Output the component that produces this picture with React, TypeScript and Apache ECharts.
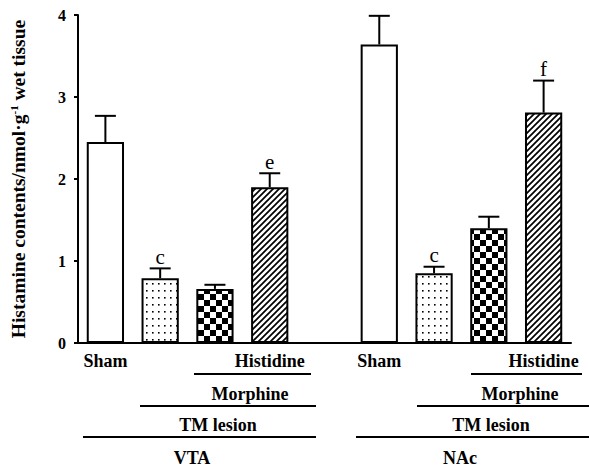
import { useEffect, useRef } from "react";
import * as echarts from "echarts";

// ---- data ----
const categories = ["Sham", "", "", "Histidine", "", "Sham", "", "", "Histidine"];
const means = [2.45, 0.79, 0.66, 1.9, null, 3.64, 0.85, 1.4, 2.81];
const sems = [0.32, 0.12, 0.05, 0.17, null, 0.35, 0.08, 0.14, 0.39];
const letters = ["", "c", "", "e", "", "", "c", "", "f"];
const fills = ["plain", "dots", "checker", "hatch", "", "plain", "dots", "checker", "hatch"];
const yMin = 0;
const yMax = 4;
const yStep = 1;
const regionNames = ["VTA", "NAc"];
const treatmentRows = ["Morphine", "TM lesion"];

const SERIF = '"Liberation Serif", "Times New Roman", serif';

function makePattern(kind: string): any {
  if (kind === "plain" || !kind) return "#ffffff";
  const c = document.createElement("canvas");
  let w = 6;
  let h = 7;
  if (kind === "checker") {
    w = 12;
    h = 12;
  } else if (kind === "hatch") {
    w = 6;
    h = 6;
  }
  c.width = w;
  c.height = h;
  const ctx = c.getContext("2d")!;
  ctx.fillStyle = "#ffffff";
  ctx.fillRect(0, 0, w, h);
  ctx.fillStyle = "#000000";
  ctx.strokeStyle = "#000000";
  if (kind === "dots") {
    ctx.fillRect(2, 3, 1.6, 1.6);
  } else if (kind === "checker") {
    ctx.fillRect(0, 0, 6, 6);
    ctx.fillRect(6, 6, 6, 6);
  } else if (kind === "hatch") {
    ctx.lineWidth = 1.7;
    ctx.beginPath();
    ctx.moveTo(0, 6);
    ctx.lineTo(6, 0);
    ctx.moveTo(-2, 2);
    ctx.lineTo(2, -2);
    ctx.moveTo(4, 8);
    ctx.lineTo(8, 4);
    ctx.stroke();
  }
  return { image: c, repeat: "repeat", imageWidth: w, imageHeight: h };
}

export default function App() {
  const ref = useRef<HTMLDivElement>(null);

  useEffect(() => {
    if (!ref.current) return;
    const chart = echarts.init(ref.current, undefined, { renderer: "svg" });

    const barData = means.map((v, i) =>
      v == null ? "-" : { value: v, itemStyle: { color: makePattern(fills[i]) } }
    );
    const errData: any[] = [];
    means.forEach((v, i) => {
      if (v != null) errData.push([i, v, v + (sems[i] as number)]);
    });

    const label = (text: string, x: number, y: number) => ({
      type: "text",
      x,
      y,
      silent: true,
      style: {
        text,
        fill: "#000",
        fontFamily: SERIF,
        fontWeight: "bold",
        fontSize: 18,
        align: "center",
        verticalAlign: "middle",
        textAlign: "center",
        textVerticalAlign: "middle",
      },
    });
    const hline = (x1: number, x2: number, y: number) => ({
      type: "line",
      silent: true,
      shape: { x1, y1: y, x2, y2: y },
      style: { stroke: "#000", lineWidth: 2 },
    });

    const graphic = [
      hline(194, 311, 374),
      hline(471, 582, 374),
      label(treatmentRows[0], 250, 394),
      label(treatmentRows[0], 520, 394),
      hline(140, 316, 406),
      hline(417, 589, 406),
      label(treatmentRows[1], 218, 425),
      label(treatmentRows[1], 491, 425),
      hline(83, 316, 437),
      hline(356, 589, 437),
      label(regionNames[0], 192, 458),
      label(regionNames[1], 460, 458),
    ];

    chart.setOption({
      animation: false,
      backgroundColor: "#ffffff",
      grid: { left: 78, right: 18, top: 15, bottom: 125, containLabel: false },
      xAxis: {
        type: "category",
        data: categories,
        axisLine: { show: true, lineStyle: { color: "#000", width: 2 } },
        axisTick: { show: false },
        axisLabel: {
          interval: 0,
          color: "#000",
          fontFamily: SERIF,
          fontWeight: "bold",
          fontSize: 18,
          margin: 9,
        },
        splitLine: { show: false },
      },
      yAxis: {
        type: "value",
        min: yMin,
        max: yMax,
        interval: yStep,
        axisLine: { show: true, lineStyle: { color: "#000", width: 2 } },
        axisTick: { show: true, length: 4, lineStyle: { color: "#000", width: 2 } },
        splitLine: { show: false },
        axisLabel: {
          color: "#000",
          fontFamily: SERIF,
          fontWeight: "bold",
          fontSize: 16,
          margin: 12,
        },
        name: "{a|Histamine contents/nmol·g}{sup|-1}{a| wet tissue}",
        nameLocation: "middle",
        nameGap: 50,
        nameTextStyle: {
          color: "#000",
          fontFamily: SERIF,
          fontWeight: "bold",
          fontSize: 19.5,
          rich: {
            a: {
              fontFamily: SERIF,
              fontWeight: "bold",
              fontSize: 19.5,
              lineHeight: 20,
              color: "#000",
            },
            sup: {
              fontFamily: SERIF,
              fontWeight: "bold",
              fontSize: 11,
              lineHeight: 11,
              verticalAlign: "top",
              color: "#000",
            },
          },
        },
      },
      series: [
        {
          type: "bar",
          data: barData,
          barWidth: "68%",
          itemStyle: { borderColor: "#000", borderWidth: 2 },
          z: 2,
        },
        {
          type: "custom",
          data: errData,
          encode: { x: 0, y: [1, 2] },
          z: 3,
          renderItem: (params: any, api: any) => {
            const idx = api.value(0);
            const base = api.coord([idx, api.value(1)]);
            const top = api.coord([idx, api.value(2)]);
            const half = 10.5;
            const letter = letters[idx] || "";
            const children: any[] = [
              {
                type: "line",
                shape: { x1: base[0], y1: base[1], x2: top[0], y2: top[1] },
                style: { stroke: "#000", lineWidth: 2 },
              },
              {
                type: "line",
                shape: { x1: top[0] - half, y1: top[1], x2: top[0] + half, y2: top[1] },
                style: { stroke: "#000", lineWidth: 2 },
              },
            ];
            if (letter) {
              children.push({
                type: "text",
                x: top[0],
                y: top[1] - 1,
                style: {
                  text: letter,
                  fill: "#000",
                  fontFamily: SERIF,
                  fontWeight: "normal",
                  fontSize: 21,
                  align: "center",
                  verticalAlign: "bottom",
                  textAlign: "center",
                  textVerticalAlign: "bottom",
                },
              });
            }
            return { type: "group", children };
          },
        },
      ],
      graphic,
    });

    return () => chart.dispose();
  }, []);

  return (
    <div
      ref={ref}
      style={{ position: "absolute", left: 0, top: 0, width: 589, height: 468 }}
    />
  );
}
